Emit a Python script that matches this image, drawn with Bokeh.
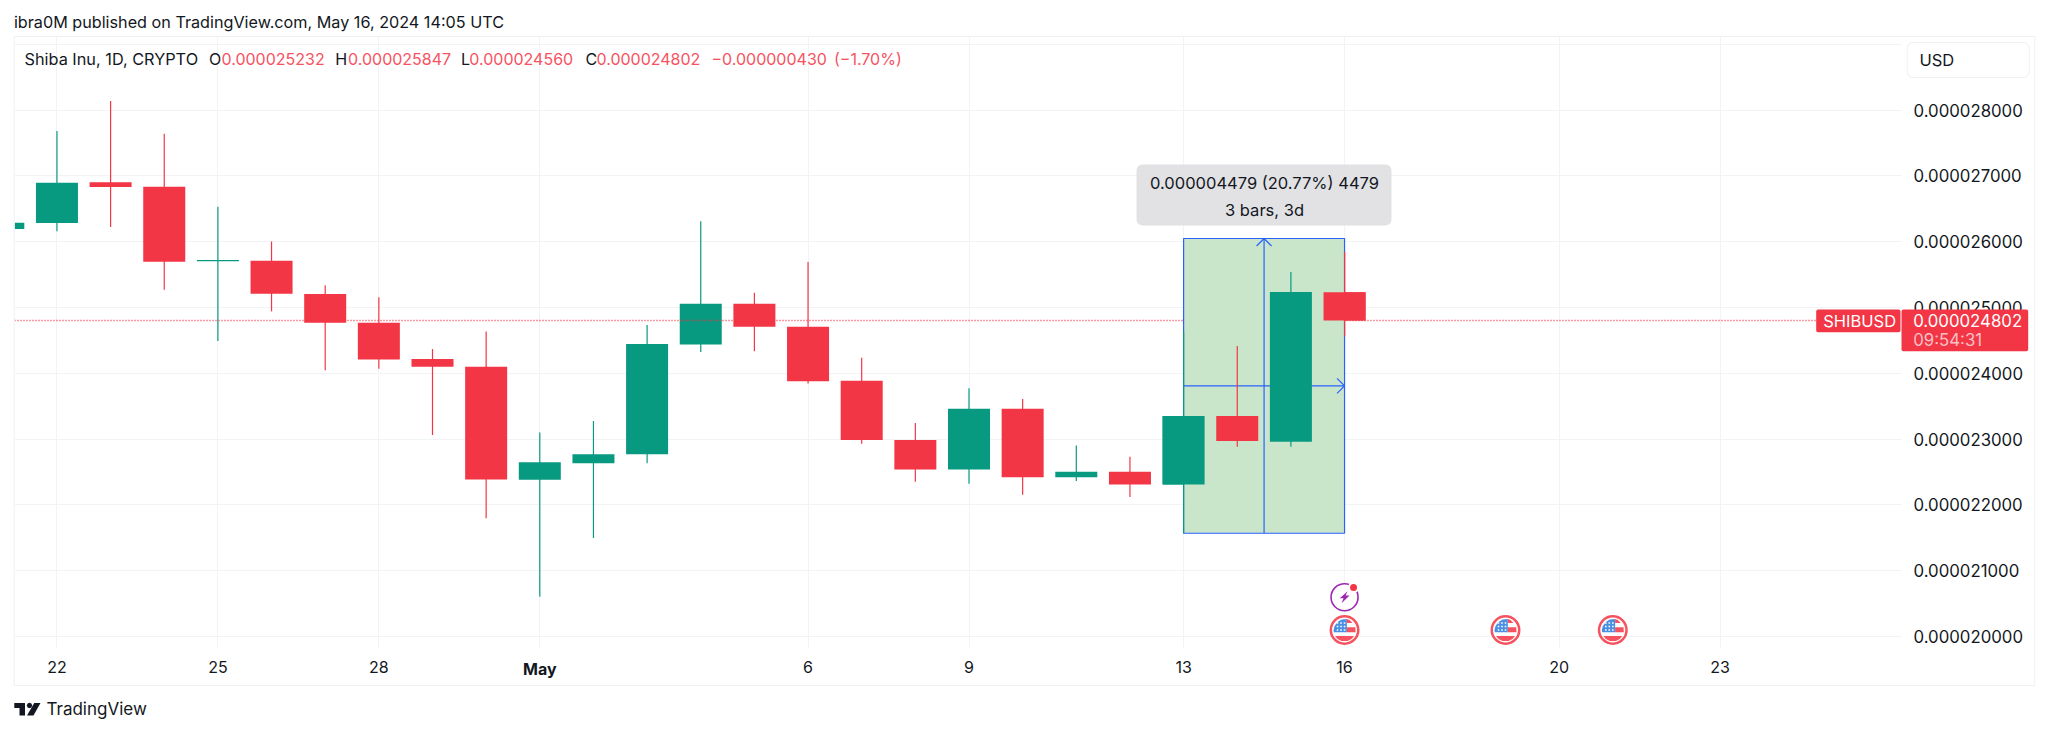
from bokeh.plotting import figure
from bokeh.models import Label, BoxAnnotation, PolyAnnotation, FixedTicker, Range1d
from bokeh.embed import file_html
from bokeh.resources import INLINE

# ---- data: day offset from 1 May 2024, prices in units of 1e-9 USD
day_offset = [-10, -9, -8, -7, -6, -5, -4, -3, -2, -1, 0, 1, 2, 3, 4, 5, 6, 7, 8, 9, 10, 11, 12, 13, 14, 15]
opens  = [26191, 26282, 26901, 26835, 25700, 25709, 25203, 24767, 24215, 24098, 22380, 22630, 22767, 24438, 25056, 24706, 23885, 22984, 22538, 23460, 22417, 22502, 22310, 23349, 22958, 25232]
highs  = [26300, 27681, 28137, 27640, 26530, 26000, 25335, 25153, 24367, 24635, 23100, 23273, 24732, 26308, 25223, 25690, 24235, 23242, 23770, 23607, 22903, 22730, 24630, 24413, 25538, 25847]
lows   = [26180, 26156, 26222, 25269, 24489, 24940, 24043, 24068, 23060, 21794, 20602, 21494, 22630, 24322, 24332, 23845, 22928, 22350, 22320, 22153, 22361, 22118, 21568, 22882, 22882, 24560]
closes = [26287, 26895, 26830, 25694, 25720, 25208, 24767, 24210, 24098, 22386, 22645, 22767, 24443, 25056, 24706, 23876, 22984, 22538, 23460, 22417, 22502, 22310, 23349, 22969, 25234, 24802]

y_ticks = [20000, 21000, 22000, 23000, 24000, 25000, 26000, 27000, 28000, 29000]
y_labels = ["0.000020000", "0.000021000", "0.000022000", "0.000023000", "0.000024000",
            "0.000025000", "0.000026000", "0.000027000", "0.000028000", ""]
x_ticks = [-9, -6, -3, 0, 5, 8, 12, 15, 19, 22]
x_labels = ["22", "25", "28", "", "6", "9", "13", "16", "20", "23"]
last_close = 24802
measure_low, measure_high = 21568, 26047
measure_start, measure_end = 12, 15
event_bolt_days = [15]
event_flag_days = [15, 18, 20]

RED, GREEN, BLUE = "#f23645", "#089981", "#2962ff"
INK, GRID, RED_TXT = "#131722", "#f2f3f6", "#f7525f"
FONT = "Inter"

# mapping of reference pixels onto the chart's scales
X0, DX, Y28, DY = 539.3, 53.65, 109.5, 0.0658
FL, FR, FT, FB = 14, 1901, 36, 647
W, H = 2048, 733
def X(px): return (px - X0) / DX
def Y(py): return 28000 - (py - Y28) / DY

p = figure(width=W, height=H, output_backend="svg", toolbar_location=None,
           x_range=Range1d(X(FL), X(FR)), y_range=Range1d(Y(FB), Y(FT)),
           y_axis_location="right", min_border_left=FL, min_border_right=W - FR,
           min_border_top=FT, min_border_bottom=H - FB, background_fill_color="white")
p.outline_line_color = None
p.xaxis.ticker = FixedTicker(ticks=x_ticks)
p.yaxis.ticker = FixedTicker(ticks=y_ticks)
p.xaxis.major_label_overrides = dict(zip(x_ticks, x_labels))
p.yaxis.major_label_overrides = dict(zip(y_ticks, y_labels))
for ax in (p.xaxis[0], p.yaxis[0]):
    ax.axis_line_color = None
    ax.major_tick_line_color = None
    ax.minor_tick_line_color = None
    ax.major_tick_out = 0
    ax.major_tick_in = 0
    ax.major_label_text_font = FONT
    ax.major_label_text_color = INK
p.xaxis.major_label_text_font_size = "16px"
p.yaxis.major_label_text_font_size = "16.8px"
p.xaxis.major_label_standoff = 13
p.yaxis.major_label_standoff = 12
p.xgrid.grid_line_color = GRID
p.ygrid.grid_line_color = GRID

def candles(idx):
    for color, up in ((GREEN, True), (RED, False)):
        sel = [i for i in idx if (closes[i] >= opens[i]) == up]
        xs = [day_offset[i] for i in sel]
        p.segment(xs, [lows[i] for i in sel], xs, [highs[i] for i in sel], line_color=color, line_width=1.2)
        p.vbar(xs, 0.783, [min(opens[i], closes[i]) for i in sel],
               [max(opens[i], closes[i]) for i in sel], fill_color=color, line_color=None)

candles(range(len(day_offset)))
p.line([X(FL), X(FR)], [last_close, last_close], line_color=RED, line_width=1.4, line_dash="1 2")

# measuring tool
p.quad(left=[measure_start], right=[measure_end], bottom=[measure_low], top=[measure_high],
       fill_color="#c9e6cb", line_color=BLUE, line_width=1.2)
mx = (measure_start + measure_end) / 2
my = (measure_low + measure_high) / 2
hx, hy = 7.5 / DX, 7.5 / DY
p.multi_line([[mx, mx], [measure_start, measure_end],
              [mx - hx, mx, mx + hx], [measure_end - hx, measure_end, measure_end - hx]],
             [[measure_low, measure_high], [my, my],
              [measure_high - hy, measure_high, measure_high - hy], [my + hy, my, my - hy]],
             line_color=BLUE, line_width=1.2)
candles([i for i, d in enumerate(day_offset) if d >= measure_start])

# events
def poly(cx, cy, pts, color):
    p.patch([cx + a / DX for a, _ in pts], [cy - b / DY for _, b in pts], fill_color=color, line_color=None)

for d in event_flag_days:
    cx, cy = d, Y(629.5)
    p.scatter([cx], [cy], size=27.5, fill_color="white", line_color=RED_TXT, line_width=2.5)
    poly(cx, cy, [(2.3, -11), (-3, -10.5), (-7, -8), (-10, -4), (-11, 0), (-10.7, 2.3), (2.3, 2.3)], "#4a90e2")
    poly(cx, cy, [(2.3, -11), (5, -10), (8, -7), (2.3, -7)], RED_TXT)
    poly(cx, cy, [(2.3, -2.7), (10.7, -2.7), (11, 2.3), (2.3, 2.3)], RED_TXT)
    poly(cx, cy, [(-9.5, 6), (9.5, 6), (7, 9), (3, 11), (-3, 11), (-7, 9)], RED_TXT)
    dots_x = [cx + o / DX for o in (-7, -3.5, 0) for _ in (-7, -3.5, 0)]
    dots_y = [cy - o / DY for _ in (-7, -3.5, 0) for o in (-7, -3.5, 0)]
    p.scatter(dots_x, dots_y, marker="square", size=1.6, fill_color="white", line_color=None)
for d in event_bolt_days:
    cx, cy = d, Y(596.7)
    p.scatter([cx], [cy], size=27, fill_color="white", line_color="#9c27b0", line_width=1.6)
    poly(cx, cy, [(3, -6), (-4.7, 1), (-1, 1), (-3, 6), (5, -1.7), (1, -1.7)], "#9c27b0")
    p.scatter([cx + 9 / DX], [cy + 9.7 / DY], size=11, fill_color="white", line_color=None)
    p.scatter([cx + 9 / DX], [cy + 9.7 / DY], size=7, fill_color=RED, line_color=None)

# transparent page-sized overlay (pixel coordinates) for the chart's surrounding furniture
q = figure(width=W, height=H, output_backend="svg", toolbar_location=None,
           x_range=Range1d(0, W), y_range=Range1d(H, 0), x_axis_location=None, y_axis_location=None,
           min_border=0, background_fill_color=None, border_fill_color=None, outline_line_color=None)
q.grid.visible = False
q.styles = {"position": "absolute", "left": "0px", "top": "0px"}

def box(l, r, t, b, fill, line=None, radius=0, alpha=1.0):
    q.add_layout(BoxAnnotation(left=l, right=r, top=t, bottom=b, fill_color=fill, fill_alpha=alpha,
                               line_color=line, line_alpha=1 if line else 0, line_width=1, border_radius=radius))

def txt(px, py, s, size=16, color=INK, align="left", style="normal", alpha=1.0):
    q.add_layout(Label(x=px, y=py, text=s, text_font=FONT, text_font_size=f"{size}px", text_color=color,
                       text_align=align, text_baseline="middle", text_font_style=style, text_alpha=alpha))

box(13.7, 2034.3, 36, 685, None, line="#eef0f6")
box(1136, 1391, 164, 225, "#dfe0e3", radius=6, alpha=0.92)
box(1815.7, 1900, 309, 331.7, RED, radius=2)
box(1901, 2027.7, 309, 350.7, RED, radius=2)
box(1906.7, 2028.7, 42, 77, "white", line="#eef0f6", radius=6)

txt(1264, 182, "0.000004479 (20.77%) 4479", 16.5, align="center")
txt(1264, 209, "3 bars, 3d", 16.5, align="center")
txt(1822.7, 320, "SHIBUSD", 16.5, color="white")
txt(1912.7, 320, "0.000024802", 16.8, color="white")
txt(1912.7, 339, "09:54:31", 16.8, color="white", alpha=0.7)
txt(1919, 59.5, "USD", 16.5)
txt(539.3, 668, "May", 16, align="center", style="bold")

txt(13.4, 21, "ibra0M published on TradingView.com, May 16, 2024 14:05 UTC", 16.2)
txt(24, 58, "Shiba Inu, 1D, CRYPTO", 16.3)
for px, s in ((208.5, "O"), (334.8, "H"), (460.5, "L"), (585, "C")):
    txt(px, 58, s, 16)
for px, s in ((221, "0.000025232"), (347.6, "0.000025847"), (468.8, "0.000024560"), (596, "0.000024802"),
              (711, "\u22120.000000430"), (833.5, "(\u22121.70%)")):
    txt(px, 58, s, 16, color=RED_TXT)

def logo(pts):
    q.add_layout(PolyAnnotation(xs=[a for a, _ in pts], ys=[b for _, b in pts],
                                fill_color=INK, fill_alpha=1, line_color=None))
logo([(13.8, 702.5), (24.5, 702.5), (24.5, 715), (19, 715), (19, 707.5), (13.8, 707.5)])
logo([(29, 702.3), (30.9, 703.1), (31.7, 705), (30.9, 706.9), (29, 707.7), (27.1, 706.9), (26.3, 705), (27.1, 703.1)])
logo([(33.7, 702.5), (40, 702.5), (33, 715), (26.5, 715)])
txt(46, 708.5, "TradingView", 17)

open("out.html", "w").write(file_html([p, q], INLINE))
